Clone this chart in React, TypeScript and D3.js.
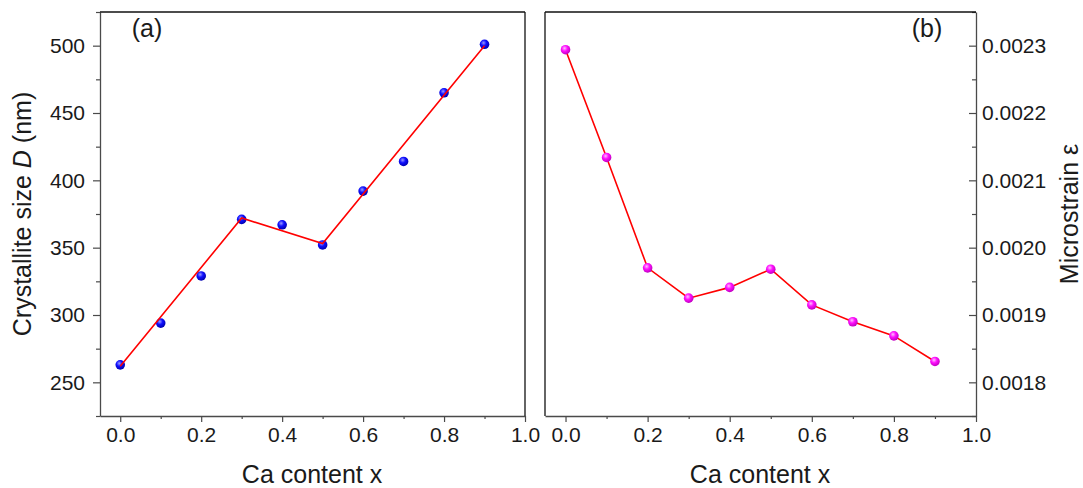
import { useEffect, useRef } from "react";
import * as d3 from "d3";

// Ca content (shared x values)
const caContent = [0.0, 0.1, 0.2, 0.3, 0.4, 0.5, 0.6, 0.7, 0.8, 0.9];

// panel (a): crystallite size D (nm)
const crystalliteSize = [263, 294, 329, 371, 367, 352, 392, 414, 465, 501];
// piecewise linear guide line in panel (a)
const fitX = [0.0, 0.3, 0.5, 0.9];
const fitSize = [262, 372, 353, 500];

// panel (b): microstrain
const microstrain = [
  0.002294, 0.002134, 0.00197, 0.001925, 0.001941, 0.001968, 0.001915,
  0.00189, 0.001869, 0.001831,
];

const xTicks = [0, 0.2, 0.4, 0.6, 0.8, 1.0];
const xMinorTicks = [0.1, 0.3, 0.5, 0.7, 0.9];
const sizeTicks = [250, 300, 350, 400, 450, 500];
const sizeMinorTicks = [225, 275, 325, 375, 425, 475, 525];
const strainTicks = [0.0018, 0.0019, 0.002, 0.0021, 0.0022, 0.0023];
const strainMinorTicks = [0.00175, 0.00185, 0.00195, 0.00205, 0.00215, 0.00225, 0.00235];

const W = 1083;
const H = 488;
const FONT = "'Liberation Sans', Arial, sans-serif";
const AXIS = "#4a4a4a";

export default function App() {
  const svgRef = useRef<SVGSVGElement>(null);

  useEffect(() => {
    const svg = d3.select(svgRef.current);
    svg.selectAll("*").remove();

    const defs = svg.append("defs");
    const addGrad = (id: string, light: string, base: string, dark: string) => {
      const g = defs
        .append("radialGradient")
        .attr("id", id)
        .attr("cx", "40%")
        .attr("cy", "35%")
        .attr("r", "65%");
      g.append("stop").attr("offset", "0%").attr("stop-color", light);
      g.append("stop").attr("offset", "45%").attr("stop-color", base);
      g.append("stop").attr("offset", "100%").attr("stop-color", dark);
    };
    addGrad("ballBlue", "#9a9aff", "#1010ff", "#0000b0");
    addGrad("ballMagenta", "#ffc0ff", "#ff10ff", "#c000c0");

    const top = 12;
    const bottom = 416;

    // ---------- panel (a) ----------
    const ax = d3.scaleLinear().domain([-0.05, 1.0]).range([100, 525]);
    const ay = d3.scaleLinear().domain([225, 525]).range([bottom, top]);

    // ---------- panel (b) ----------
    const bx = d3.scaleLinear().domain([-0.05, 1.0]).range([545, 976]);
    const by = d3.scaleLinear().domain([0.00175, 0.00235]).range([bottom, top]);

    const styleAxis = (g: any) => {
      g.selectAll("path").attr("stroke", AXIS).attr("stroke-width", 1.3);
      g.selectAll("line").attr("stroke", AXIS).attr("stroke-width", 1.2);
      g.selectAll("text")
        .attr("font-family", FONT)
        .attr("font-size", 21)
        .attr("fill", "#1a1a1a");
    };

    const bottomAxis = (x: any) => {
      const g = svg.append("g").attr("transform", `translate(0,${bottom})`);
      g.call(d3.axisBottom(x).tickValues(xTicks).tickSize(6).tickSizeOuter(0).tickPadding(5).tickFormat(d3.format(".1f")));
      g.append("g")
        .call(d3.axisBottom(x).tickValues(xMinorTicks).tickSize(3).tickSizeOuter(0).tickFormat(() => ""))
        .select(".domain")
        .remove();
      styleAxis(g);
    };
    bottomAxis(ax);
    bottomAxis(bx);

    // left axis of (a)
    const gl = svg.append("g").attr("transform", `translate(100,0)`);
    gl.call(d3.axisLeft(ay).tickValues(sizeTicks).tickSize(7).tickSizeOuter(0).tickPadding(8));
    gl.append("g")
      .call(d3.axisLeft(ay).tickValues(sizeMinorTicks).tickSize(4).tickSizeOuter(0).tickFormat(() => ""))
      .select(".domain")
      .remove();
    styleAxis(gl);

    // right axis of (b), ticks inward
    const gr = svg.append("g").attr("transform", `translate(976,0)`);
    gr.call(
      d3.axisRight(by).tickValues(strainTicks).tickSizeInner(-7).tickSizeOuter(0).tickPadding(6).tickFormat(d3.format(".4f"))
    );
    gr.append("g")
      .call(d3.axisRight(by).tickValues(strainMinorTicks).tickSizeInner(-4).tickSizeOuter(0).tickFormat(() => ""))
      .select(".domain")
      .remove();
    styleAxis(gr);

    // frame lines
    const frame = svg.append("g").attr("stroke", "#111").attr("stroke-width", 1.3);
    frame.append("line").attr("x1", 100).attr("x2", 525).attr("y1", top).attr("y2", top);
    frame.append("line").attr("x1", 525).attr("x2", 525).attr("y1", top).attr("y2", bottom);
    frame.append("line").attr("x1", 545).attr("x2", 976).attr("y1", top).attr("y2", top);
    frame.append("line").attr("x1", 545).attr("x2", 545).attr("y1", top).attr("y2", bottom);

    // data (a): markers, then the fit line on top
    svg
      .append("g")
      .selectAll("circle")
      .data(caContent)
      .join("circle")
      .attr("cx", (d) => ax(d))
      .attr("cy", (d, i) => ay(crystalliteSize[i]))
      .attr("r", 4.8)
      .attr("fill", "url(#ballBlue)");

    const fitLine = d3
      .line<number>()
      .x((d) => ax(d))
      .y((d, i) => ay(fitSize[i]));
    svg
      .append("path")
      .attr("d", fitLine(fitX))
      .attr("fill", "none")
      .attr("stroke", "#ff0000")
      .attr("stroke-width", 1.6);

    // data (b): line, then markers
    const strainLine = d3
      .line<number>()
      .x((d) => bx(d))
      .y((d, i) => by(microstrain[i]));
    svg
      .append("path")
      .attr("d", strainLine(caContent))
      .attr("fill", "none")
      .attr("stroke", "#ff0000")
      .attr("stroke-width", 1.6);

    svg
      .append("g")
      .selectAll("circle")
      .data(caContent)
      .join("circle")
      .attr("cx", (d) => bx(d))
      .attr("cy", (d, i) => by(microstrain[i]))
      .attr("r", 4.8)
      .attr("fill", "url(#ballMagenta)");

    // labels
    const text = (x: number, y: number, s: string, rotate = false) =>
      svg
        .append("text")
        .attr("transform", rotate ? `translate(${x},${y}) rotate(-90)` : `translate(${x},${y})`)
        .attr("text-anchor", "middle")
        .attr("font-family", FONT)
        .attr("font-size", 25)
        .attr("fill", "#1a1a1a")
        .text(s);

    text(147, 37, "(a)");
    text(927, 37, "(b)");
    text(312, 483, "Ca content x");
    text(760, 483, "Ca content x");
    text(1078, 214, "Microstrain ε", true);

    const yTitle = svg
      .append("text")
      .attr("transform", `translate(31,214) rotate(-90)`)
      .attr("text-anchor", "middle")
      .attr("font-family", FONT)
      .attr("font-size", 25)
      .attr("fill", "#1a1a1a");
    yTitle.append("tspan").text("Crystallite size ");
    yTitle.append("tspan").attr("font-style", "italic").text("D");
    yTitle.append("tspan").text(" (nm)");
  }, []);

  return (
    <svg
      ref={svgRef}
      width={W}
      height={H}
      style={{ position: "absolute", left: 0, top: 0, background: "#fff" }}
    ></svg>
  );
}
